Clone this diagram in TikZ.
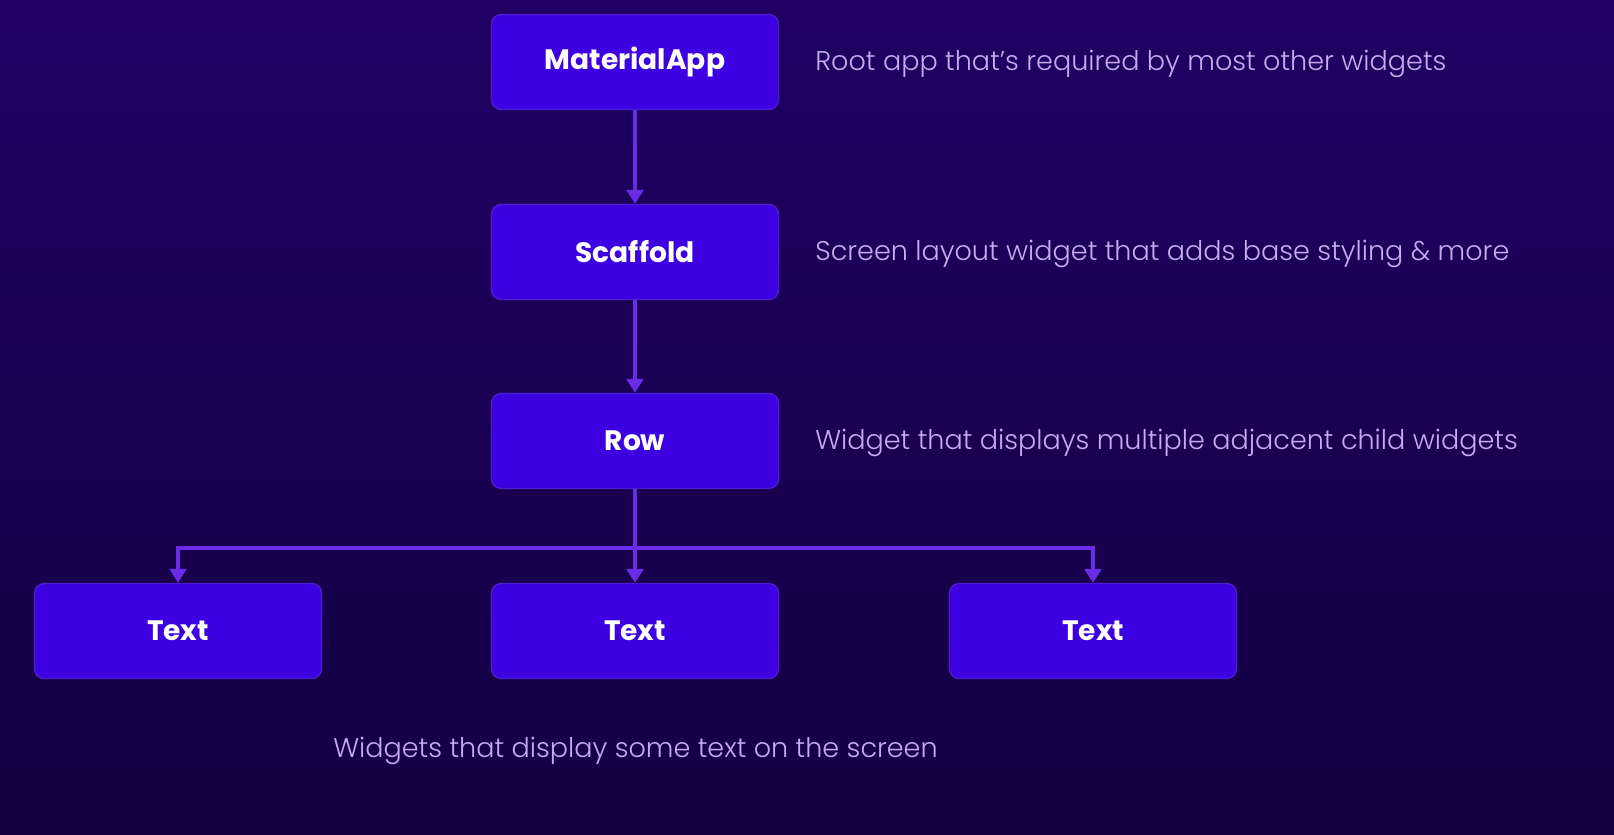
\documentclass[tikz,border=0pt]{standalone}
\usepackage{fontspec}
\setmainfont{Poppins}
\newfontfamily\descfont{Poppins Light}
\usetikzlibrary{arrows.meta}
\definecolor{bgtop}{HTML}{1F0062}
\definecolor{bgbot}{HTML}{140042}
\definecolor{boxfill}{HTML}{3D00E0}
\definecolor{boxline}{HTML}{4E1CD2}
\definecolor{connline}{HTML}{6A2CE6}
\definecolor{desctext}{HTML}{C8AAF0}
\tikzset{
	widget/.style={draw=boxline,line width=0.8pt,fill=boxfill,rounded corners=5.5pt,minimum width=5.74cm,minimum height=1.9cm,text=white,font=\bfseries\fontsize{16}{19}\selectfont},
	desc/.style={anchor=west,inner sep=0pt,text=desctext,font=\descfont\fontsize{15.4}{19}\selectfont},
	conn/.style={draw=connline,line width=2pt,-{Triangle[width=9.5pt,length=8pt]}}
}
\begin{document}
\begin{tikzpicture}[x=0.02cm,y=-0.02cm]
	% Hintergrund
	\shade[top color=bgtop,bottom color=bgbot] (0,0) rectangle (1614,835);
	\useasboundingbox (0,0) rectangle (1614,835);
	% Widgets
	\node[widget] (app) at (635,62) {MaterialApp};
	\node[widget] (scaffold) at (635,252) {Scaffold};
	\node[widget] (row) at (635,441) {Row};
	\node[widget] (textA) at (178,631) {Text};
	\node[widget] (textB) at (635,631) {Text};
	\node[widget] (textC) at (1093,631) {Text};
	% Beschreibungen
	\node[desc] (appdesc) at (815,64) {Root app that’s required by most other widgets};
	\node[desc] (scaffolddesc) at (815,254) {Screen layout widget that adds base styling \& more};
	\node[desc] (rowdesc) at (815,443) {Widget that displays multiple adjacent child widgets};
	\node[desc] (textdesc) at (333,751) {Widgets that display some text on the screen};
	% Verbindungen
	\coordinate (split) at (635,548);
	\draw[conn] (app) -- (scaffold);
	\draw[conn] (scaffold) -- (row);
	\draw[conn] (row) -- (textB);
	\draw[conn] (split) -| (textA);
	\draw[conn] (split) -| (textC);
\end{tikzpicture}
\end{document}
